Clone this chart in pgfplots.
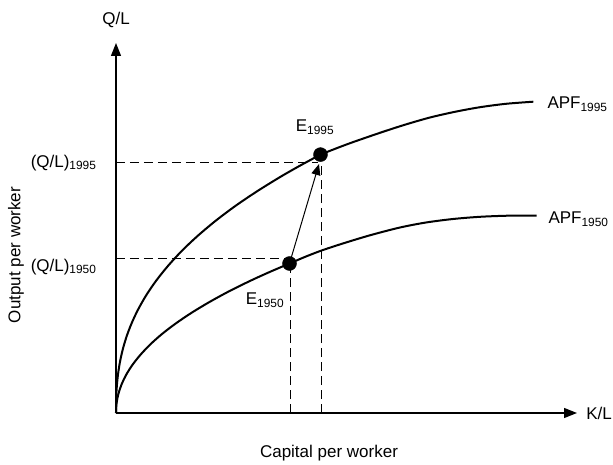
\documentclass[border=0pt]{standalone}
\usepackage{pgfplots}
\pgfplotsset{compat=1.18}
\usepackage{fontspec}
\setmainfont{Liberation Sans}
\usetikzlibrary{arrows.meta}
\begin{document}
\begin{tikzpicture}[font=\fontsize{17}{20}\selectfont]
\useasboundingbox (-116pt,-51pt) rectangle (497pt,413pt);
\begin{axis}[
  x=1pt, y=1pt,
  xmin=0, xmax=461, ymin=0, ymax=370,
  axis lines=left,
  axis line style={line width=1.4pt, -{Triangle[length=13pt,width=10pt]}},
  xtick=\empty, ytick=\empty,
  clip=false,
]
% APF 1995
\addplot[line width=2pt, smooth, tension=0.5] coordinates {
 (0,0) (0.05,8.5) (0.25,16.4) (0.5,21.8) (1,29) (2,38.6) (4,51.3) (7,64.5) (11,77.7)
 (16,90.6) (22,103.3) (30,117.4) (40,132.1) (52,147.1) (66,162.3) (82,177.4)
 (100,192.5) (120,207.5) (142,222.3) (165,236.5) (185,247.9) (204.5,258.4)};
\addplot[line width=2pt, smooth, tension=0.5] coordinates {
 (204.5,258.4) (214,262.2) (234,269.8) (264,280.2) (289,288.3) (314,295.5)
 (339,301.2) (364,305.8) (390,309.2) (417.3,311.3)};
% APF 1950
\addplot[line width=2pt, smooth, tension=0.5] coordinates {
 (0,0) (0.1,4.1) (0.5,9.0) (1.5,15.2) (3,21.2) (6,29.6) (10,37.9) (16,47.5) (24,57.7)
 (34,68.3) (46,79.0) (60,89.7) (76,100.5) (94,111.3) (114,122.2) (136,133.0)
 (155,141.6) (173.5,149.5)};
\addplot[line width=2pt, smooth, tension=0.5] coordinates {
 (173.5,149.5) (190,156.5) (207,163) (230,170.5) (255,178) (284,185.5) (310,190.5)
 (337,194) (364,196.2) (392,197.3) (420.7,197.5)};
% dashed guides
\addplot[line width=1.2pt, dash pattern=on 9pt off 5pt] coordinates {(0,154.7) (172,154.7)};
\addplot[line width=1.2pt, dash pattern=on 9pt off 5pt] coordinates {(174.5,0) (174.5,150)};
\addplot[line width=1.2pt, dash pattern=on 9pt off 5pt] coordinates {(0,250.7) (202,250.7)};
\addplot[line width=1.2pt, dash pattern=on 9pt off 5pt] coordinates {(205.2,0) (205.2,250)};
% arrow
\addplot[line width=1pt, -{Triangle[length=11pt,width=9pt]}] coordinates {(173.5,149.5) (203,249)};
% points
\addplot[only marks, mark=*, mark size=7pt, black] coordinates {(173.5,149.5) (204.5,258.4)};
% labels
\node at (axis cs:0,393) {Q/L};
\node[anchor=east, inner sep=0pt] at (axis cs:496,0) {K/L};
\node at (axis cs:213,-40) {Capital per worker};
\node[rotate=90] at (axis cs:-100,158) {Output per worker};
\node[anchor=east] at (axis cs:-16,250) {(Q/L)\textsubscript{1995}};
\node[anchor=east] at (axis cs:-16,146) {(Q/L)\textsubscript{1950}};
\node at (axis cs:199,286) {E\textsubscript{1995}};
\node at (axis cs:149,113) {E\textsubscript{1950}};
\node[anchor=west] at (axis cs:428,309) {APF\textsubscript{1995}};
\node[anchor=west] at (axis cs:429,194) {APF\textsubscript{1950}};
\end{axis}
\end{tikzpicture}
\end{document}
